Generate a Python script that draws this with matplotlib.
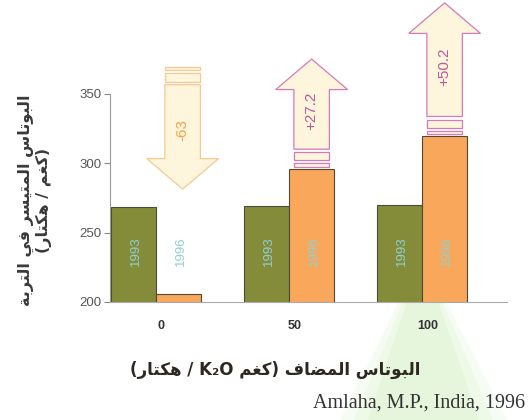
import matplotlib
matplotlib.use("Agg")
import matplotlib.pyplot as plt
from matplotlib.patches import Polygon, Rectangle

# ---- data ----
doses = ["0", "50", "100"]
k_1993 = [268.8, 269.0, 269.6]
k_1996 = [206.0, 296.2, 319.8]
changes = ["-63", "+27.2", "+50.2"]
years = ["1993", "1996"]

ylabel_ar = "البوتاس المتيسر في التربة"
ylabel_unit_ar = "(كغم / هكتار)"
xlabel_ar_start = "البوتاس المضاف (كغم "
xlabel_latin = "K₂O"
xlabel_ar_end = " / هكتار)"
source = "Amlaha, M.P., India, 1996"

# ---- tiny arabic shaper (matplotlib has no shaping / bidi) ----
FORMS = {
    'ا': ('\uFE8D', '\uFE8E', None, None),
    'و': ('\uFEED', '\uFEEE', None, None),
    'ر': ('\uFEAD', '\uFEAE', None, None),
    'ة': ('\uFE93', '\uFE94', None, None),
    'ى': ('\uFEEF', '\uFEF0', None, None),
    'ب': ('\uFE8F', '\uFE90', '\uFE91', '\uFE92'),
    'ت': ('\uFE95', '\uFE96', '\uFE97', '\uFE98'),
    'س': ('\uFEB1', '\uFEB2', '\uFEB3', '\uFEB4'),
    'ض': ('\uFEBD', '\uFEBE', '\uFEBF', '\uFEC0'),
    'غ': ('\uFECD', '\uFECE', '\uFECF', '\uFED0'),
    'ف': ('\uFED1', '\uFED2', '\uFED3', '\uFED4'),
    'ك': ('\uFED9', '\uFEDA', '\uFEDB', '\uFEDC'),
    'ل': ('\uFEDD', '\uFEDE', '\uFEDF', '\uFEE0'),
    'م': ('\uFEE1', '\uFEE2', '\uFEE3', '\uFEE4'),
    'ه': ('\uFEE9', '\uFEEA', '\uFEEB', '\uFEEC'),
    'ي': ('\uFEF1', '\uFEF2', '\uFEF3', '\uFEF4'),
}


def shape(text):
    out = []
    for i, c in enumerate(text):
        if c not in FORMS:
            out.append(c)
            continue
        prev = text[i - 1] if i > 0 else ''
        nxt = text[i + 1] if i + 1 < len(text) else ''
        join_prev = prev in FORMS and FORMS[prev][2] is not None
        join_next = FORMS[c][2] is not None and nxt in FORMS
        iso, fin, ini, med = FORMS[c]
        if join_prev and join_next:
            out.append(med)
        elif join_prev:
            out.append(fin)
        elif join_next:
            out.append(ini)
        else:
            out.append(iso)
    return ''.join(out)


def rtl(text):
    return shape(text)[::-1].translate(str.maketrans('()', ')('))


def draw_arrow(ax, xc, start, tip, edge, label, tcolor):
    d = 1 if tip > start else -1
    shw, hhw, head = 0.1335, 0.27, 22
    # two stripes at the tail
    for a, b in [(0, 2.4), (4.6, 10.5)]:
        y0 = start + d * a
        y1 = start + d * b
        ax.add_patch(Rectangle((xc - shw, min(y0, y1)), 2 * shw, abs(y1 - y0),
                               facecolor='#fdf6dc', edgecolor=edge, lw=0.9,
                               clip_on=False, zorder=3))
    s0 = start + d * 12.7
    hb = tip - d * head
    pts = [(xc - shw, s0), (xc + shw, s0), (xc + shw, hb), (xc + hhw, hb),
           (xc, tip), (xc - hhw, hb), (xc - shw, hb)]
    ax.add_patch(Polygon(pts, closed=True, facecolor='#fdf6dc', edgecolor=edge,
                         lw=0.9, clip_on=False, zorder=3, joinstyle='miter'))
    ax.text(xc, (s0 + hb) / 2 + d * 6, label, rotation=90, ha='center', va='center',
            fontsize=11, color=tcolor, zorder=4, clip_on=False)


plt.rcParams['font.family'] = ['Liberation Sans', 'DejaVu Sans']

fig = plt.figure(figsize=(5.32, 4.20), dpi=100)
W, H = 532.0, 420.0

# faint green beam behind the "100" label
for grow, alpha in [(0, 0.14), (-14, 0.16), (-28, 0.18)]:
    pts = [(398 - grow * 0.3, 303), (447 + grow * 0.3, 303), (507 + grow, 420), (340 - grow, 420)]
    fig.patches.append(Polygon([(x / W, 1 - y / H) for x, y in pts], closed=True,
                               transform=fig.transFigure, facecolor='#c6eab0',
                               edgecolor='none', alpha=alpha, zorder=0))

ax = fig.add_axes([109.5 / W, 1 - 302 / H, (507 - 109.5) / W, (302 - 94) / H])
ax.patch.set_alpha(0)
ax.set_zorder(2)

w = 0.338
x = list(range(len(doses)))
ax.bar([i - w / 2 for i in x], k_1993, w, color='#848c3a', edgecolor='#4d4a3a', lw=0.8, zorder=2)
ax.bar([i + w / 2 for i in x], k_1996, w, color='#f9a75a', edgecolor='#4d4a3a', lw=0.8, zorder=2)

for i in x:
    ax.text(i - w / 2 + 0.02, 237, years[0], rotation=90, ha='center', va='center',
            fontsize=9.5, color='#8fd0d6', zorder=3)
    ax.text(i + w / 2 + 0.02, 237, years[1], rotation=90, ha='center', va='center',
            fontsize=9.5, color='#8fd0d6', zorder=3)

# change arrows
for i in x:
    xc = i + w / 2
    ch = float(changes[i])
    if ch < 0:
        tip = k_1993[i] + 12.6
        draw_arrow(ax, xc + 0.03, tip + 88, tip, '#f8c890', changes[i], '#f7a04a')
    else:
        start = k_1996[i] + 1.3
        tip = k_1996[i] + 59 + 0.735 * ch
        draw_arrow(ax, xc, start, tip, '#d878b8', changes[i], '#c0559a')

ax.set_xlim(-0.351, 2.638)
ax.set_ylim(200, 350)
ax.set_yticks([200, 250, 300, 350])
ax.set_xticks([i + 0.04 for i in x])
ax.set_xticklabels(doses, fontweight='bold')
ax.tick_params(axis='y', length=4, width=0.8, color='#888888', labelsize=9.5,
               labelcolor='#555555', pad=2)
ax.tick_params(axis='x', length=0, labelsize=9, labelcolor='#333333', pad=13)
for s in ['top', 'right']:
    ax.spines[s].set_visible(False)
ax.spines['left'].set_color('#999999')
ax.spines['bottom'].set_color('#aaaaaa')
ax.spines['left'].set_linewidth(0.8)
ax.spines['bottom'].set_linewidth(0.8)

fig.text(35 / W, 1 - 200 / H, rtl(ylabel_ar) + "\n" + rtl(ylabel_unit_ar),
         rotation=90, ha='center', va='center', multialignment='center',
         fontsize=11.5, fontweight='bold', family='DejaVu Sans', color='#3a3a3a',
         linespacing=1.2)

xlabel = rtl(xlabel_ar_end) + xlabel_latin + rtl(xlabel_ar_start)
fig.text(275 / W, 1 - 370 / H, xlabel, ha='center', va='center', fontsize=12,
         fontweight='bold', family='DejaVu Sans', color='#2e2620')

fig.text(525 / W, 1 - 403 / H, source, ha='right', va='center', fontsize=14.5,
         family='Liberation Serif', color='#333333')

fig.savefig('out.png', dpi=100)
